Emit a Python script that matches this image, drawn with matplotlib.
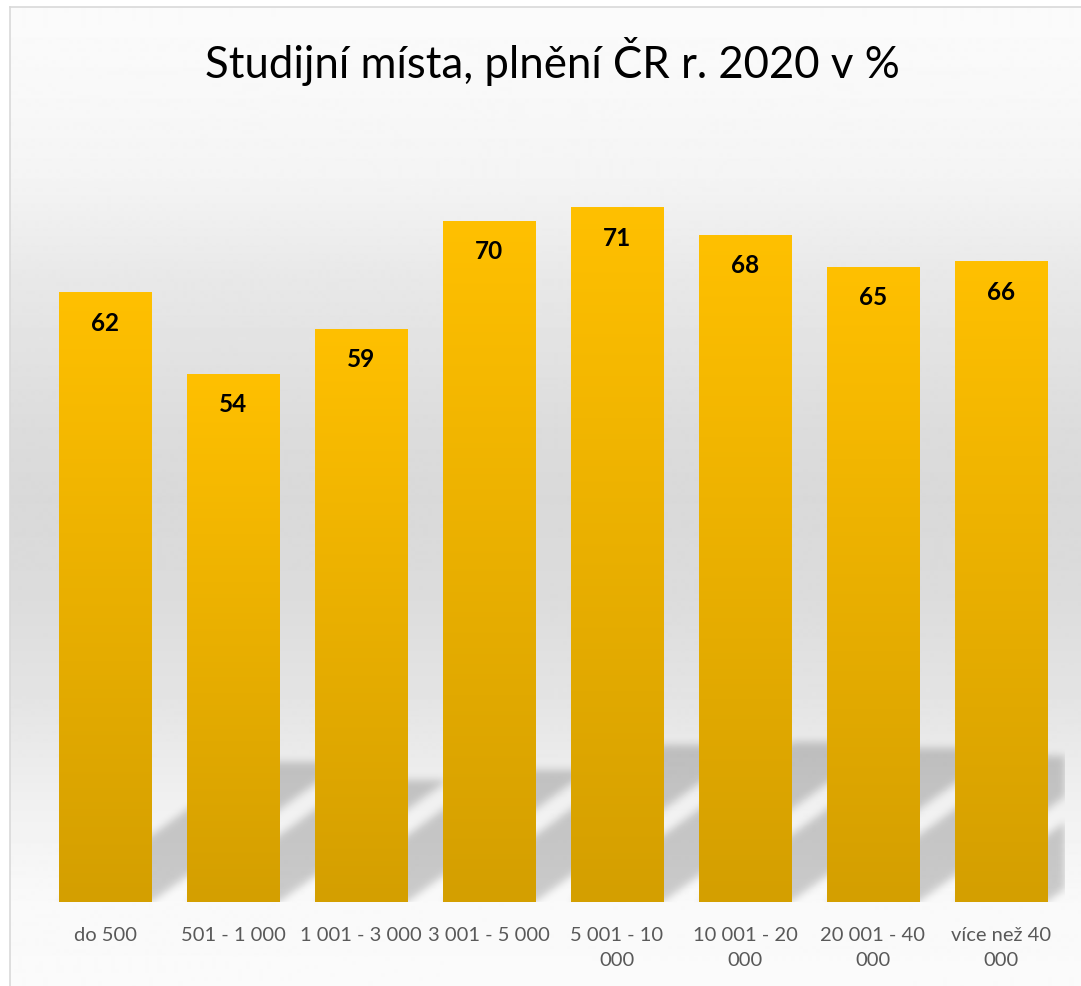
import numpy as np
import matplotlib
matplotlib.use('Agg')
import matplotlib.pyplot as plt
from matplotlib.colors import LinearSegmentedColormap

# data
title = 'Studijní místa, plnění ČR r. 2020 v %'
categories = ['do 500', '501 - 1 000', '1 001 - 3 000', '3 001 - 5 000',
              '5 001 - 10\n000', '10 001 - 20\n000', '20 001 - 40\n000', 'více než 40\n000']
values = [62.3, 54.0, 58.6, 69.6, 71.0, 68.2, 64.9, 65.5]

W, H, DPI = 1081, 987, 100
plt.rcParams['font.family'] = ['Lato', 'DejaVu Sans']

fig = plt.figure(figsize=(W / DPI, H / DPI), dpi=DPI)
fig.patch.set_facecolor('white')

# chart panel background (vertical grey gradient), framed on left/top
bg = fig.add_axes([10 / W, -0.02, 1.0, 1 - 8 / H + 0.02])
stop_px = [8, 100, 180, 280, 380, 430, 500, 600, 700, 800, 900, 1010]
stop_gray = [251, 248, 244, 232, 224, 220, 217, 220, 228, 240, 249, 251]
rows = np.arange(8, 1008)
shade = np.interp(rows, stop_px, stop_gray) / 255
bg.imshow(shade[:, None], cmap='gray', vmin=0, vmax=1, aspect='auto', extent=(0, 1, 0, 1))
bg.set_xticks([])
bg.set_yticks([])
for side in ['right', 'bottom']:
    bg.spines[side].set_visible(False)
for side in ['left', 'top']:
    bg.spines[side].set_color('#d9d9d9')
    bg.spines[side].set_linewidth(1.2)

# main plot
ax_w, ax_h = 1024, 782.8
ax = fig.add_axes([41 / W, (H - 903) / H, ax_w / W, ax_h / H])
ax.set_facecolor('none')
x = np.arange(len(values))
ymax = 80
bar_w = 0.72

bars = ax.bar(x, values, width=bar_w, color='#FFC000', zorder=2)
gold = LinearSegmentedColormap.from_list('gold', ['#D49F00', '#FFC000'])
for b in bars:
    im = ax.imshow(np.linspace(0, 1, 256)[:, None], cmap=gold, origin='lower', aspect='auto',
                   extent=(b.get_x(), b.get_x() + b.get_width(), 0, b.get_height()), zorder=3)
    im.set_clip_path(b)

# perspective shadows (skewed up-right, blurred)
px_x = ax_w / len(values)
px_y = ax_h / ymax
nx, ny = int(ax_w), int(ax_h)
gx = np.linspace(-0.5, len(values) - 0.5, nx)
gy = np.linspace(0, ymax, ny)
X, Y = np.meshgrid(gx, gy)
shift = Y * px_y / 0.72 / px_x
mask = np.zeros_like(X)
for xi, v in zip(x, values):
    inside = (Y <= 0.23 * v) & (X >= xi - bar_w / 2 + shift) & (X <= xi + bar_w / 2 + shift)
    mask = np.maximum(mask, inside.astype(float))
k = np.arange(-12, 13)
kern = np.exp(-k ** 2 / (2 * 4.0 ** 2))
kern /= kern.sum()
mask = np.apply_along_axis(lambda r: np.convolve(r, kern, mode='same'), 1, mask)
mask = np.apply_along_axis(lambda c: np.convolve(c, kern, mode='same'), 0, mask)
rgba = np.zeros((ny, nx, 4))
rgba[..., 3] = 0.19 * mask
ax.imshow(rgba, origin='lower', aspect='auto', extent=(-0.5, len(values) - 0.5, 0, ymax), zorder=1)

ax.set_xlim(-0.5, len(values) - 0.5)
ax.set_ylim(0, ymax)

for xi, v in zip(x, values):
    ax.annotate(f'{v:.0f}', (xi, v), xytext=(0, -21.6), textcoords='offset points',
                ha='center', va='center', fontsize=17.5, fontweight='bold', color='black', zorder=4)

ax.set_xticks(x, categories, linespacing=1.6)
ax.set_yticks([])
ax.tick_params(axis='x', length=0, pad=17, labelsize=14.5, labelcolor='#595959')
for s in ax.spines.values():
    s.set_visible(False)

fig.text(552 / W, 1 - 62 / H, title, ha='center', va='center', fontsize=31.5, color='black')

fig.savefig('out.png', dpi=DPI)
